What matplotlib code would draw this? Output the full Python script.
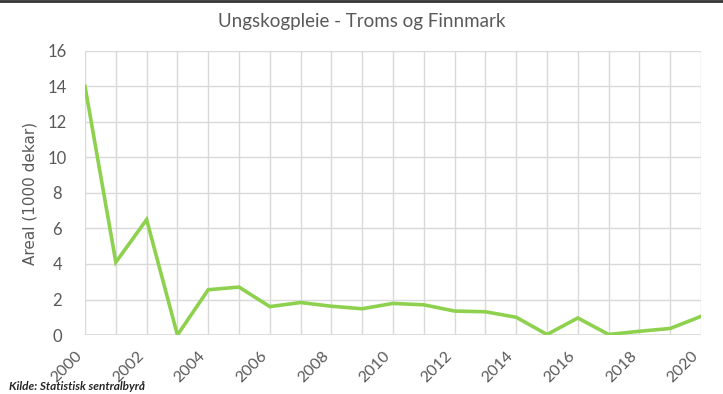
import matplotlib
matplotlib.use('Agg')
import matplotlib.pyplot as plt
from matplotlib.lines import Line2D

years = list(range(2000, 2021))
areal = [14.0, 4.1, 6.5, 0.0, 2.55, 2.7, 1.6, 1.83, 1.62, 1.48, 1.78, 1.7,
         1.35, 1.31, 1.0, 0.03, 0.96, 0.03, 0.21, 0.37, 1.05]
xticks = list(range(2000, 2021, 2))
yticks = list(range(0, 17, 2))

plt.rcParams['font.family'] = ['Lato', 'DejaVu Sans']
txt = '#595959'
grid = '#d9d9d9'

fig = plt.figure(figsize=(7.23, 3.94), dpi=100)
ax = fig.add_axes([0.1176, 0.1497, 0.852, 0.721])

ax.plot(years, areal, color='#8ed14f', lw=2.6, solid_joinstyle='miter', zorder=3)

ax.set_xlim(2000, 2020)
ax.set_ylim(0, 16)
ax.set_xticks(years, minor=True)
ax.set_xticks(xticks)
ax.set_yticks(yticks)
ax.set_xticklabels([str(y) for y in xticks], rotation=45, ha='right', va='top',
                   fontsize=11.5, color=txt)
ax.set_yticklabels([str(v) for v in yticks], fontsize=12, color=txt)
ax.tick_params(which='both', length=0)
ax.tick_params(axis='x', pad=10)
ax.tick_params(axis='y', pad=20)
for lab in ax.get_yticklabels():
    lab.set_horizontalalignment('center')
ax.grid(which='both', color=grid, lw=1.0, zorder=0)
for s in ax.spines.values():
    s.set_visible(False)
ax.axhline(0, color=grid, lw=1.2, zorder=1)

ax.set_ylabel('Areal (1000 dekar)', fontsize=11, color=txt,
              family=['Liberation Sans Narrow', 'DejaVu Sans'], labelpad=7)
fig.text(0.5, 0.945, 'Ungskogpleie - Troms og Finnmark', ha='center', va='center',
         fontsize=13.5, color=txt)
fig.text(0.012, 0.004, 'Kilde: Statistisk sentralbyrå', ha='left', va='bottom',
         fontsize=8.5, style='italic', weight='bold', color='#262626')

# thin dark edge along the top
fig.add_artist(Line2D([0, 1], [0.997, 0.997], transform=fig.transFigure,
                      color='#333333', lw=2))

fig.savefig('out.png', dpi=100)
